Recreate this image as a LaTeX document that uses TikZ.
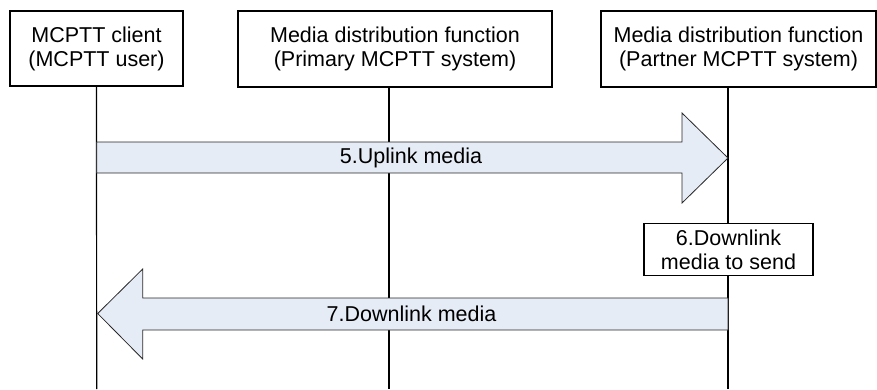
\documentclass[tikz,border=0pt]{standalone}
\usepackage{fontspec}
\setmainfont{Liberation Sans}
\usetikzlibrary{positioning}
\definecolor{arrowfill}{RGB}{230,236,245}
\definecolor{arrowline}{RGB}{40,40,40}
\tikzset{
  entity/.style={draw, line width=1.2pt, fill=white, align=center, inner sep=0pt},
  lifeline/.style={line width=1.2pt},
  fatarrow/.style={draw=arrowline, line width=0.8pt, fill=arrowfill},
  msg/.style={inner sep=0pt}
}
\begin{document}
\begin{tikzpicture}[x=1pt, y=-1pt, font=\fontsize{21.5}{24}\selectfont]
                \useasboundingbox (0,0) rectangle (877,389);

                % Entites
                \node[entity, minimum width=173pt, minimum height=75pt] (client) at (96.5,48.5) {MCPTT client\\(MCPTT user)};
                \node[entity, minimum width=314pt, minimum height=76pt] (prim) at (395,49) {Media distribution function\\(Primary MCPTT system)};
                \node[entity, minimum width=275pt, minimum height=76pt] (part) at (738.5,49) {Media distribution function\\(Partner MCPTT system)};

                % Lignes de vie
                \coordinate (clientend) at (96.7,389);
                \coordinate (primtop) at (389,87);
                \coordinate (primend) at (389,389);
                \coordinate (parttop) at (728,87);
                \coordinate (partend) at (728,389);
                \draw[lifeline] (client.south) -- (clientend);
                \draw[lifeline] (primtop) -- (primend);
                \draw[lifeline] (parttop) -- (partend);

                % 5. media montant
                \draw[fatarrow] (96.7,142) -- (682,142) -- (682,113) -- (728,158)
                    -- (682,203) -- (682,173) -- (96.7,173) -- cycle;
                \node[msg] (uplink) at (411,158) {5.Uplink media};

                % 6. traitement
                \node[entity, minimum width=169pt, minimum height=52.5pt] (send) at (728.5,249.5) {6.Downlink\\media to send};

                % 7. media descendant
                \draw[fatarrow] (728,298) -- (142.7,298) -- (142.7,269) -- (97.7,313.5)
                    -- (142.7,359) -- (142.7,330) -- (728,330) -- cycle;
                \node[msg] (downlink) at (411.5,313.5) {7.Downlink media};
            \end{tikzpicture}
\end{document}
